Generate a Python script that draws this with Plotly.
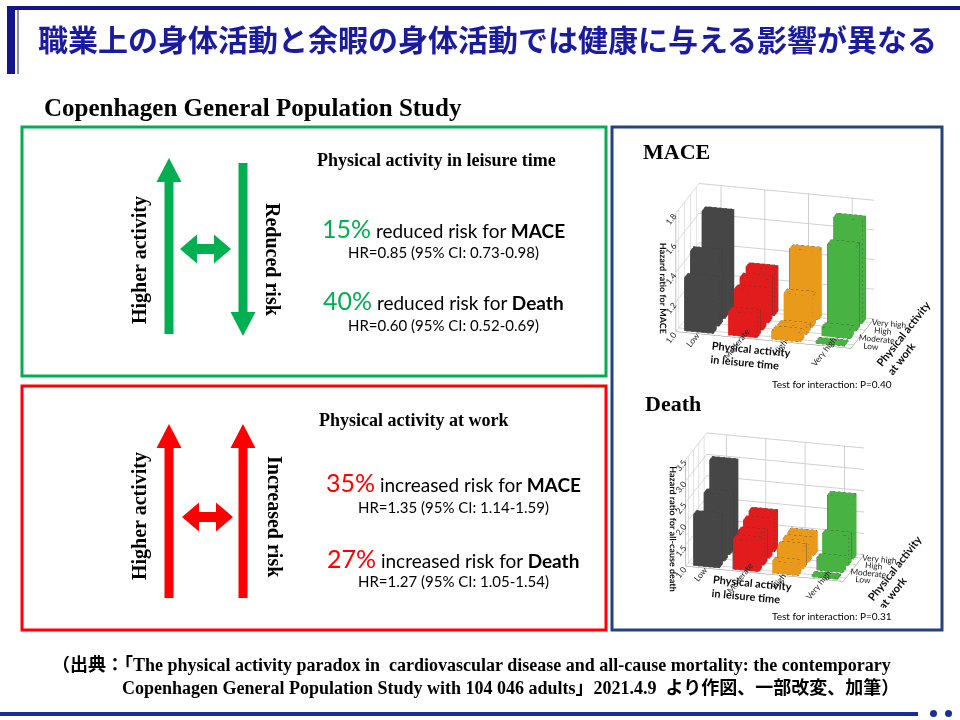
import plotly.graph_objects as go

W, H = 960, 720

# ---- data ----
leisure_levels = ["Low", "Moderate", "High", "Very high"]
work_levels = ["Low", "Moderate", "High", "Very high"]
bar_colors = ["#4a4a4a", "#ee1d1d", "#f6a21c", "#4cbb47"]

# hazard ratio per leisure level, listed by work level (Low..Very high)
mace_low_leisure = [1.36, 1.49, 1.26, 1.66]
mace_moderate_leisure = [1.16, 1.26, 1.29, 1.31]
mace_high_leisure = [1.06, 1.05, 1.21, 1.46]
mace_veryhigh_leisure = [1.00, 1.06, 1.57, 1.70]

death_low_leisure = [2.20, 2.00, 2.40, 3.00]
death_moderate_leisure = [1.72, 1.75, 1.85, 1.90]
death_high_leisure = [1.28, 1.50, 1.50, 1.50]
death_veryhigh_leisure = [1.00, 1.30, 1.70, 2.45]

mace_rows = [mace_low_leisure, mace_moderate_leisure, mace_high_leisure, mace_veryhigh_leisure]
death_rows = [death_low_leisure, death_moderate_leisure, death_high_leisure, death_veryhigh_leisure]


def px(x):
    return x / W


def py(y):
    return 1 - y / H


def path_of(points):
    s = "M" + " L".join("%.5f,%.5f" % (px(a), py(b)) for a, b in points)
    return s + " Z"


def up_arrow(x, y_top, y_bot, shaft=9, head=25, hl=24):
    return path_of([(x - shaft / 2, y_bot), (x - shaft / 2, y_top + hl), (x - head / 2, y_top + hl),
                    (x, y_top), (x + head / 2, y_top + hl), (x + shaft / 2, y_top + hl), (x + shaft / 2, y_bot)])


def down_arrow(x, y_top, y_bot, shaft=9, head=25, hl=24):
    return path_of([(x - shaft / 2, y_top), (x - shaft / 2, y_bot - hl), (x - head / 2, y_bot - hl),
                    (x, y_bot), (x + head / 2, y_bot - hl), (x + shaft / 2, y_bot - hl), (x + shaft / 2, y_top)])


def double_arrow(x0, x1, y, shaft=10, head=29, hl=17):
    return path_of([(x0, y), (x0 + hl, y - head / 2), (x0 + hl, y - shaft / 2), (x1 - hl, y - shaft / 2),
                    (x1 - hl, y - head / 2), (x1, y), (x1 - hl, y + head / 2), (x1 - hl, y + shaft / 2),
                    (x0 + hl, y + shaft / 2), (x0 + hl, y + head / 2)])


def bar_traces(rows, scene, base, flat):
    traces = []
    hw, hd = 0.33, 0.3
    for li, vals in enumerate(rows):
        xs, ys, zs, ii, jj, kk = [], [], [], [], [], []
        ex, ey, ez = [], [], []
        for wi, v in enumerate(vals):
            top = max(v, base + flat)
            n = len(xs)
            cx, cy = li, wi
            corners = [(cx - hw, cy - hd), (cx + hw, cy - hd), (cx + hw, cy + hd), (cx - hw, cy + hd)]
            for z in (base, top):
                for a, b in corners:
                    xs.append(a)
                    ys.append(b)
                    zs.append(z)
            for t in [(0, 1, 2), (0, 2, 3), (4, 5, 6), (4, 6, 7), (0, 1, 5), (0, 5, 4),
                      (1, 2, 6), (1, 6, 5), (2, 3, 7), (2, 7, 6), (3, 0, 4), (3, 4, 7)]:
                ii.append(n + t[0])
                jj.append(n + t[1])
                kk.append(n + t[2])
            for z in (base, top):
                for a, b in corners + corners[:1]:
                    ex.append(a)
                    ey.append(b)
                    ez.append(z)
                ex.append(None)
                ey.append(None)
                ez.append(None)
            for a, b in corners:
                ex += [a, a, None]
                ey += [b, b, None]
                ez += [base, top, None]
        traces.append(go.Mesh3d(x=xs, y=ys, z=zs, i=ii, j=jj, k=kk, color=bar_colors[li],
                                flatshading=True, hoverinfo="skip", scene=scene, showscale=False,
                                lighting=dict(ambient=0.95, diffuse=0.35, specular=0.0, roughness=1.0, fresnel=0),
                                lightposition=dict(x=-20000, y=-60000, z=80000)))
        traces.append(go.Scatter3d(x=ex, y=ey, z=ez, mode="lines", hoverinfo="skip", scene=scene,
                                   line=dict(color="rgba(40,40,40,0.7)", width=1), showlegend=False))
    return traces


fig = go.Figure()
for t in bar_traces(mace_rows, "scene", 1.0, 0.012):
    fig.add_trace(t)
for t in bar_traces(death_rows, "scene2", 1.0, 0.04):
    fig.add_trace(t)

small = dict(family="Lato, Liberation Sans", size=10, color="#222")


def scene_layout(domain_y, zrange, dtick, ztitle):
    ax = dict(showbackground=True, backgroundcolor="white", gridcolor="#d0d0d0", zeroline=False,
              showspikes=False, tickfont=small, linecolor="#888", showline=True)
    return dict(
        domain=dict(x=[px(618), px(932)], y=domain_y),
        xaxis=dict(ax, range=[-0.5, 3.5], tickvals=[0, 1, 2, 3], ticktext=leisure_levels,
                   title=dict(text="<b>Physical activity<br>in leisure time</b>",
                              font=dict(family="Lato", size=11, color="#111"))),
        yaxis=dict(ax, range=[-0.5, 3.5], tickvals=[0, 1, 2, 3], ticktext=work_levels,
                   title=dict(text="<b>Physical activity<br>at work</b>",
                              font=dict(family="Lato", size=11, color="#111"))),
        zaxis=dict(ax, range=zrange, dtick=dtick, tickformat=".1f",
                   title=dict(text="<b>" + ztitle + "</b>", font=dict(family="Lato", size=9, color="#111"))),
        aspectmode="manual", aspectratio=dict(x=1.65, y=0.8, z=1.15),
        camera=dict(eye=dict(x=0.55, y=-2.0, z=0.75), center=dict(x=0.0, y=0, z=-0.02),
                    projection=dict(type="orthographic")),
        bgcolor="white",
    )


shapes = [
    # header bars
    dict(type="line", x0=px(7), x1=px(960), y0=py(8), y1=py(8), line=dict(color="#14148c", width=4)),
    dict(type="rect", x0=px(7), x1=px(15), y0=py(8), y1=py(74), fillcolor="#14148c", line_width=0),
    dict(type="line", x0=px(18), x1=px(18), y0=py(10), y1=py(74), line=dict(color="#14148c", width=1)),
    # boxes
    dict(type="rect", x0=px(22), x1=px(606), y0=py(127), y1=py(376), line=dict(color="#00b050", width=3)),
    dict(type="rect", x0=px(22), x1=px(606), y0=py(386), y1=py(630), line=dict(color="#ff0000", width=3)),
    dict(type="rect", x0=px(612), x1=px(942), y0=py(127), y1=py(630), line=dict(color="#24427f", width=3)),
    # arrows
    dict(type="path", path=up_arrow(169, 158, 334), fillcolor="#00b050", line_width=0),
    dict(type="path", path=down_arrow(243, 163, 336), fillcolor="#00b050", line_width=0),
    dict(type="path", path=double_arrow(180, 231, 249), fillcolor="#00b050", line_width=0),
    dict(type="path", path=up_arrow(169, 424, 598), fillcolor="#ff0000", line_width=0),
    dict(type="path", path=up_arrow(243, 424, 598), fillcolor="#ff0000", line_width=0),
    dict(type="path", path=double_arrow(182, 233, 517), fillcolor="#ff0000", line_width=0),
    # footer
    dict(type="line", x0=px(0), x1=px(918), y0=py(714), y1=py(714), line=dict(color="#1a2f95", width=4)),
    dict(type="circle", x0=px(930), x1=px(937), y0=py(710), y1=py(717), fillcolor="#1a2f95", line_width=0),
    dict(type="circle", x0=px(945), x1=px(952), y0=py(710), y1=py(717), fillcolor="#1a2f95", line_width=0),
]
for s in shapes:
    s["xref"] = "paper"
    s["yref"] = "paper"

serif = "Liberation Serif, Times New Roman, serif"
sans = "Lato, Liberation Sans, sans-serif"


def note(x, y, text, size, family=sans, color="black", angle=0, xanchor="center"):
    return dict(x=px(x), y=py(y), xref="paper", yref="paper", text=text, showarrow=False,
                font=dict(family=family, size=size, color=color), textangle=angle,
                xanchor=xanchor, yanchor="middle")


def risk_line(pct, color, word, outcome):
    return ('<span style="font-size:25px;color:%s">%s</span> %s risk for <b>%s</b>'
            % (color, pct, word, outcome))


annotations = [
    note(487, 38, "<b>職業上の身体活動と余暇の身体活動では健康に与える影響が異なる</b>", 30,
         family="Noto Sans CJK JP", color="#1b1ba0"),
    note(42, 107, "<b>Copenhagen General Population Study</b>", 25, family=serif, xanchor="left"),
    # leisure box
    note(139, 260, "<b>Higher activity</b>", 20, family=serif, angle=-90),
    note(273, 260, "<b>Reduced risk</b>", 20, family=serif, angle=90),
    note(436, 160, "<b>Physical activity in leisure time</b>", 18, family=serif),
    note(443, 228, risk_line("15%", "#00b050", "reduced", "MACE"), 19),
    note(443, 252, "HR=0.85 (95% CI: 0.73-0.98)", 15),
    note(443, 300, risk_line("40%", "#00b050", "reduced", "Death"), 19),
    note(443, 325, "HR=0.60 (95% CI: 0.52-0.69)", 15),
    # work box
    note(139, 516, "<b>Higher activity</b>", 20, family=serif, angle=-90),
    note(275, 517, "<b>Increased risk</b>", 20, family=serif, angle=90),
    note(413, 420, "<b>Physical activity at work</b>", 18, family=serif),
    note(453, 482, risk_line("35%", "#ff0000", "increased", "MACE"), 19),
    note(453, 507, "HR=1.35 (95% CI: 1.14-1.59)", 15),
    note(453, 558, risk_line("27%", "#ff0000", "increased", "Death"), 19),
    note(453, 581, "HR=1.27 (95% CI: 1.05-1.54)", 15),
    # right panel
    note(641, 151, "<b>MACE</b>", 22, family=serif, xanchor="left"),
    note(832, 384, "Test for interaction: P=0.40", 10),
    note(643, 403, "<b>Death</b>", 22, family=serif, xanchor="left"),
    note(832, 616, "Test for interaction: P=0.31", 10),
    # citation
    note(50, 664, "<b>（出典：「The physical activity paradox in  cardiovascular disease and all-cause mortality: "
                  "the contemporary</b>", 18, family="Liberation Serif, Noto Sans CJK JP", xanchor="left"),
    note(120, 688, "<b>Copenhagen General Population Study with 104 046 adults」2021.4.9  より作図、一部改変、加筆）</b>",
         18, family="Liberation Serif, Noto Sans CJK JP", xanchor="left"),
]

fig.update_layout(
    width=W, height=H, margin=dict(l=0, r=0, t=0, b=0),
    paper_bgcolor="white", plot_bgcolor="white", showlegend=False,
    xaxis=dict(visible=False), yaxis=dict(visible=False),
    scene=scene_layout([py(378), py(158)], [1.0, 1.8], 0.2, "Hazard ratio for MACE"),
    scene2=scene_layout([py(608), py(410)], [1.0, 3.5], 0.5, "Hazard ratio for all-cause death"),
    shapes=shapes, annotations=annotations,
)

fig.write_html("out.html", config={"displayModeBar": False},
               post_script="document.body.style.margin = '0';")
